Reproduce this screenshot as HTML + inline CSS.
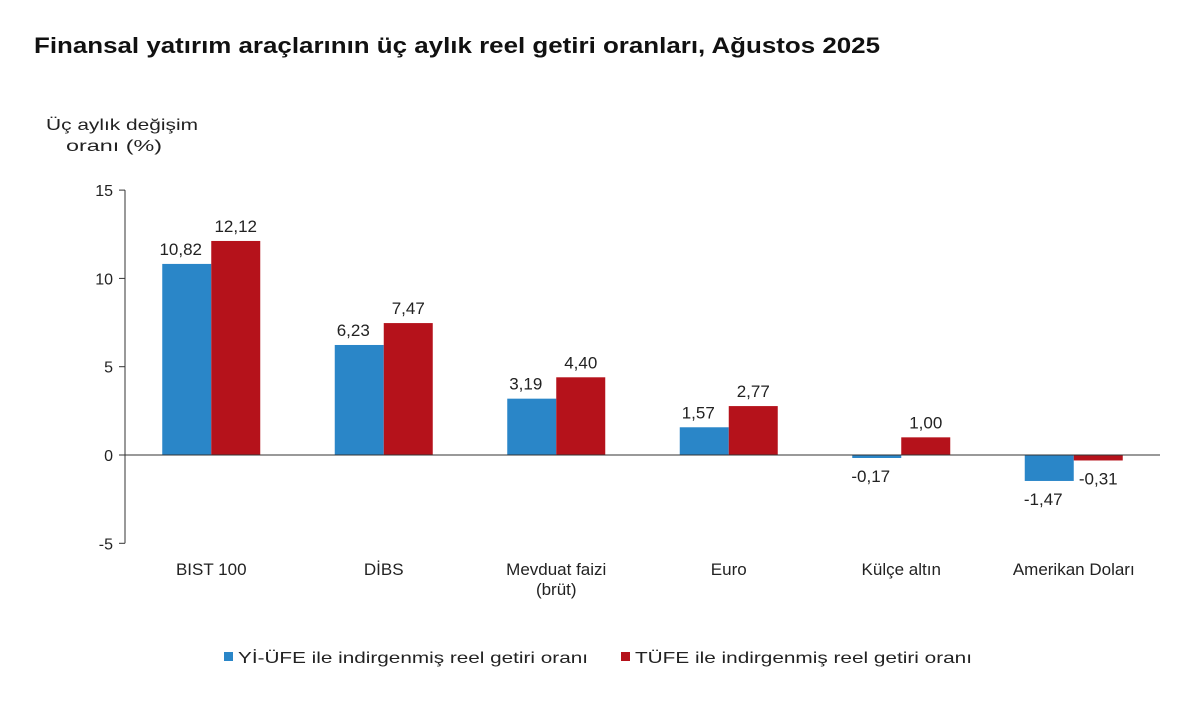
<!DOCTYPE html>
<html><head><meta charset="utf-8"><style>
body{margin:0;background:#fff;font-family:"Liberation Sans",Arial,sans-serif;}
</style></head><body>
<svg width="1200" height="705" xmlns="http://www.w3.org/2000/svg" font-family="Liberation Sans, Arial, sans-serif">
<text x="34" y="53" font-size="22" font-weight="bold" fill="#111" textLength="846" lengthAdjust="spacingAndGlyphs">Finansal yatırım araçlarının üç aylık reel getiri oranları, Ağustos 2025</text>
<text x="46" y="130" font-size="16" fill="#222" textLength="152" lengthAdjust="spacingAndGlyphs">Üç aylık değişim</text>
<text x="66" y="151" font-size="16" fill="#222" textLength="96" lengthAdjust="spacingAndGlyphs">oranı (%)</text>
<g id="plot"></g>
<g>
<rect x="224" y="652" width="9" height="9" fill="#2a86c8"/>
<text x="238" y="663" font-size="16" fill="#222" textLength="350" lengthAdjust="spacingAndGlyphs">Yİ-ÜFE ile indirgenmiş reel getiri oranı</text>
<rect x="621" y="652" width="9" height="9" fill="#b5121b"/>
<text x="635" y="663" font-size="16" fill="#222" textLength="337" lengthAdjust="spacingAndGlyphs">TÜFE ile indirgenmiş reel getiri oranı</text>
</g>
</svg>
<script>
const categories=["BIST 100","DİBS","Mevduat faizi|(brüt)","Euro","Külçe altın","Amerikan Doları"];
const yiufe=[10.82,6.23,3.19,1.57,-0.17,-1.47];
const tufe=[12.12,7.47,4.40,2.77,1.00,-0.31];
const yTicks=[15,10,5,0,-5];
const ns="http://www.w3.org/2000/svg";
const g=document.getElementById("plot");
const x0=125,x1=1160,y0v=455,pxPer=17.66;
const y=v=>y0v-v*pxPer;
const band=(x1-x0)/categories.length,bw=49;
const fmt=v=>v.toFixed(2).replace(".",",");
function mk(t,a,txt){const e=document.createElementNS(ns,t);for(const k in a)e.setAttribute(k,a[k]);if(txt!==undefined)e.textContent=txt;g.appendChild(e);return e;}
let ax=mk("line",{x1:x0,y1:y(15),x2:x0,y2:y(-5),stroke:"#333","stroke-width":1});


yTicks.forEach(t=>{
 let l=mk("line",{x1:x0-6,y1:y(t),x2:x0,y2:y(t),stroke:"#333"});
 
 
 let tx=mk("text",{x:x0-12,y:y(t)+6,"font-size":16,"text-anchor":"end",fill:"#222"},String(t));
 
 
});
categories.forEach((c,i)=>{
 const cx=x0+band*(i+0.5);
 [[yiufe[i],"#2a86c8",cx-bw],[tufe[i],"#b5121b",cx]].forEach(([v,col,bx],j)=>{
  const top=Math.min(y(v),y(0)),h=Math.abs(y(v)-y(0));
  let r=mk("rect",{x:bx,y:top,width:bw,height:Math.max(h,1),fill:col});
  
  
  const ly=v>=0?y(v)-9:y(v)+24;
  let t=mk("text",{x:bx+bw/2+(j?0:-6),y:ly,"font-size":17,"text-anchor":"middle",fill:"#222"},fmt(v));
  
  
 });
 c.split("|").forEach((p,k)=>{
  let t=mk("text",{x:cx,y:575+k*20,"font-size":17,"text-anchor":"middle",fill:"#222"},p);
  
  
 });
});
let zl=mk("line",{x1:x0,y1:y(0),x2:x1,y2:y(0),stroke:"#333"});


</script>
</body></html>
